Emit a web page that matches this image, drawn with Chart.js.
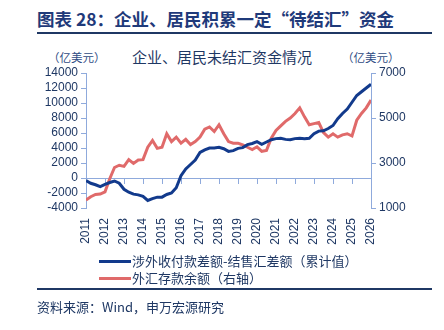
<!DOCTYPE html>
<html>
<head>
<meta charset="utf-8">
<script src="https://cdn.jsdelivr.net/npm/chart.js"></script>
<style>
  body { margin: 0; width: 444px; height: 330px; background: #fff; position: relative; overflow: hidden;
         font-family: 'Noto Sans CJK SC', 'Liberation Sans', sans-serif; color: #1F3864; }
  .abs { position: absolute; white-space: nowrap; }
  #title { left: 37px; top: 7px; font-size: 17.5px; font-weight: bold; color: #1F3A7A; line-height: 24px; }
  .rule { position: absolute; left: 37px; width: 395px; height: 2px; background: #1F3864; }
  #sub { left: 0; width: 444px; top: 47px; text-align: center; font-size: 15px; line-height: 20px; }
  .unit { top: 49px; font-size: 11.5px; line-height: 16px; color: #2F4C84; }
  .leg { left: 99px; font-size: 13px; line-height: 16px; }
  .leg span { display: inline-block; width: 32px; height: 3px; vertical-align: middle; margin-right: 1px; position: relative; top: -1px; }
  #src { left: 37px; top: 298px; font-size: 13px; line-height: 18px; color: #1F3864; }
  #box { position: absolute; left: 0; top: 62px; width: 444px; height: 190px; }
</style>
</head>
<body>
<div id="title" class="abs">图表 28：企业、居民积累一定“待结汇”资金</div>
<div class="rule" style="top:32px"></div>
<div id="sub" class="abs">企业、居民未结汇资金情况</div>
<div class="abs unit" style="left:48px">（亿美元）</div>
<div class="abs unit" style="left:342px">（亿美元）</div>
<div id="box"><canvas id="c"></canvas></div>
<div class="abs leg" style="top:253px"><span style="background:#123A8C"></span>涉外收付款差额-结售汇差额（累计值）</div>
<div class="abs leg" style="top:270px"><span style="background:#E06A6A"></span>外汇存款余额（右轴）</div>
<div class="rule" style="top:288px"></div>
<div id="src" class="abs">资料来源：Wind，申万宏源研究</div>

<script>
// 时间轴（年份，小数表示季度）
const dates = [
  2011.00, 2011.25, 2011.50, 2011.75, 2012.00, 2012.25, 2012.50, 2012.75,
  2013.00, 2013.25, 2013.50, 2013.75, 2014.00, 2014.25, 2014.50, 2014.75,
  2015.00, 2015.25, 2015.50, 2015.75, 2016.00, 2016.25, 2016.50, 2016.75,
  2017.00, 2017.25, 2017.50, 2017.75, 2018.00, 2018.25, 2018.50, 2018.75,
  2019.00, 2019.25, 2019.50, 2019.75, 2020.00, 2020.25, 2020.50, 2020.75,
  2021.00, 2021.25, 2021.50, 2021.75, 2022.00, 2022.25, 2022.50, 2022.75,
  2023.00, 2023.25, 2023.50, 2023.75, 2024.00, 2024.25, 2024.50, 2024.75,
  2025.00, 2025.25, 2025.50, 2025.75, 2026.00
];

// 涉外收付款差额-结售汇差额（累计值），亿美元，左轴
const netFlow = [
  -350, -700, -900, -1150, -850, -600, -400, -700,
  -1500, -1900, -2150, -2250, -2450, -3000, -2750, -2550,
  -2550, -2200, -2000, -1300, 300, 1200, 1800, 2400,
  3400, 3750, 4000, 4000, 4100, 3900, 3550, 3650,
  3950, 4050, 4450, 4600, 4850, 4500, 4800, 5100,
  5250, 5300, 5150, 5100, 5250, 5300, 5250, 5300,
  5900, 6250, 6300, 6600, 7000, 7900, 8600, 9200,
  10100, 11000, 11500, 12000, 12500
];

// 外汇存款余额，亿美元，右轴
const fxDeposit = [
  1350, 1500, 1600, 1620, 1720, 2300, 2800, 2900,
  2850, 3150, 2980, 3130, 3150, 3700, 4000, 3650,
  3700, 4300, 3950, 4150, 3880, 4050, 3820, 3950,
  4150, 4500, 4600, 4400, 4700, 4300, 3950, 3880,
  3880, 3800, 3700, 3600, 3720, 3520, 3560, 4100,
  4450, 4650, 4850, 5000, 5200, 5450, 5050, 4700,
  4750, 4800, 4350, 4150, 4300, 4150, 4250, 4300,
  4200, 4900, 5200, 5450, 5800
];

const yearTicks = [2011, 2026];
const leftTicks = [-4000, 14000, 2000];
const rightTicks = [1000, 7000, 2000];

const axisColor = '#8FAADC';
const labelColor = '#1F3864';

Chart.defaults.font.family = "'Liberation Sans', Arial, sans-serif";
Chart.defaults.font.size = 12;
Chart.defaults.color = labelColor;

new Chart(document.getElementById('c'), {
  type: 'line',
  data: {
    datasets: [
      {
        label: '涉外收付款差额-结售汇差额（累计值）',
        data: dates.map((d, i) => ({ x: d, y: netFlow[i] })),
        borderColor: '#123A8C',
        borderWidth: 3,
        pointRadius: 0,
        tension: 0,
        yAxisID: 'y',
        order: 1
      },
      {
        label: '外汇存款余额（右轴）',
        data: dates.map((d, i) => ({ x: d, y: fxDeposit[i] })),
        borderColor: '#E06A6A',
        borderWidth: 3,
        pointRadius: 0,
        tension: 0,
        yAxisID: 'y1',
        order: 2
      }
    ]
  },
  options: {
    responsive: true,
    maintainAspectRatio: false,
    animation: false,
    layout: { padding: { top: 11, left: 0, right: 0, bottom: 0 } },
    plugins: { legend: { display: false }, tooltip: { enabled: false } },
    scales: {
      x: {
        type: 'linear',
        min: yearTicks[0],
        max: yearTicks[1],
        border: { display: false },
        grid: { display: false },
        ticks: {
          stepSize: 1,
          autoSkip: false,
          minRotation: 90,
          maxRotation: 90,
          padding: 2,
          callback: v => String(v)
        },
        afterFit: s => { s.height = 44; }
      },
      x0: {
        type: 'linear',
        position: { y: 0 },
        min: yearTicks[0],
        max: yearTicks[1],
        border: { display: true, color: axisColor, width: 1 },
        grid: { drawOnChartArea: false, drawTicks: true, tickLength: 5, color: axisColor },
        ticks: { stepSize: 1, autoSkip: false, display: false }
      },
      y: {
        position: 'left',
        min: leftTicks[0],
        max: leftTicks[1],
        border: { display: true, color: axisColor },
        grid: { drawOnChartArea: false, tickLength: 5, color: axisColor },
        ticks: { stepSize: leftTicks[2], autoSkip: false, padding: 3, callback: v => String(v) },
        afterFit: s => { s.width = 86; }
      },
      y1: {
        position: 'right',
        min: rightTicks[0],
        max: rightTicks[1],
        border: { display: true, color: axisColor },
        grid: { drawOnChartArea: false, tickLength: 5, color: axisColor },
        ticks: { stepSize: rightTicks[2], autoSkip: false, padding: 3, callback: v => String(v) },
        afterFit: s => { s.width = 73; }
      }
    }
  }
});
</script>
</body>
</html>
